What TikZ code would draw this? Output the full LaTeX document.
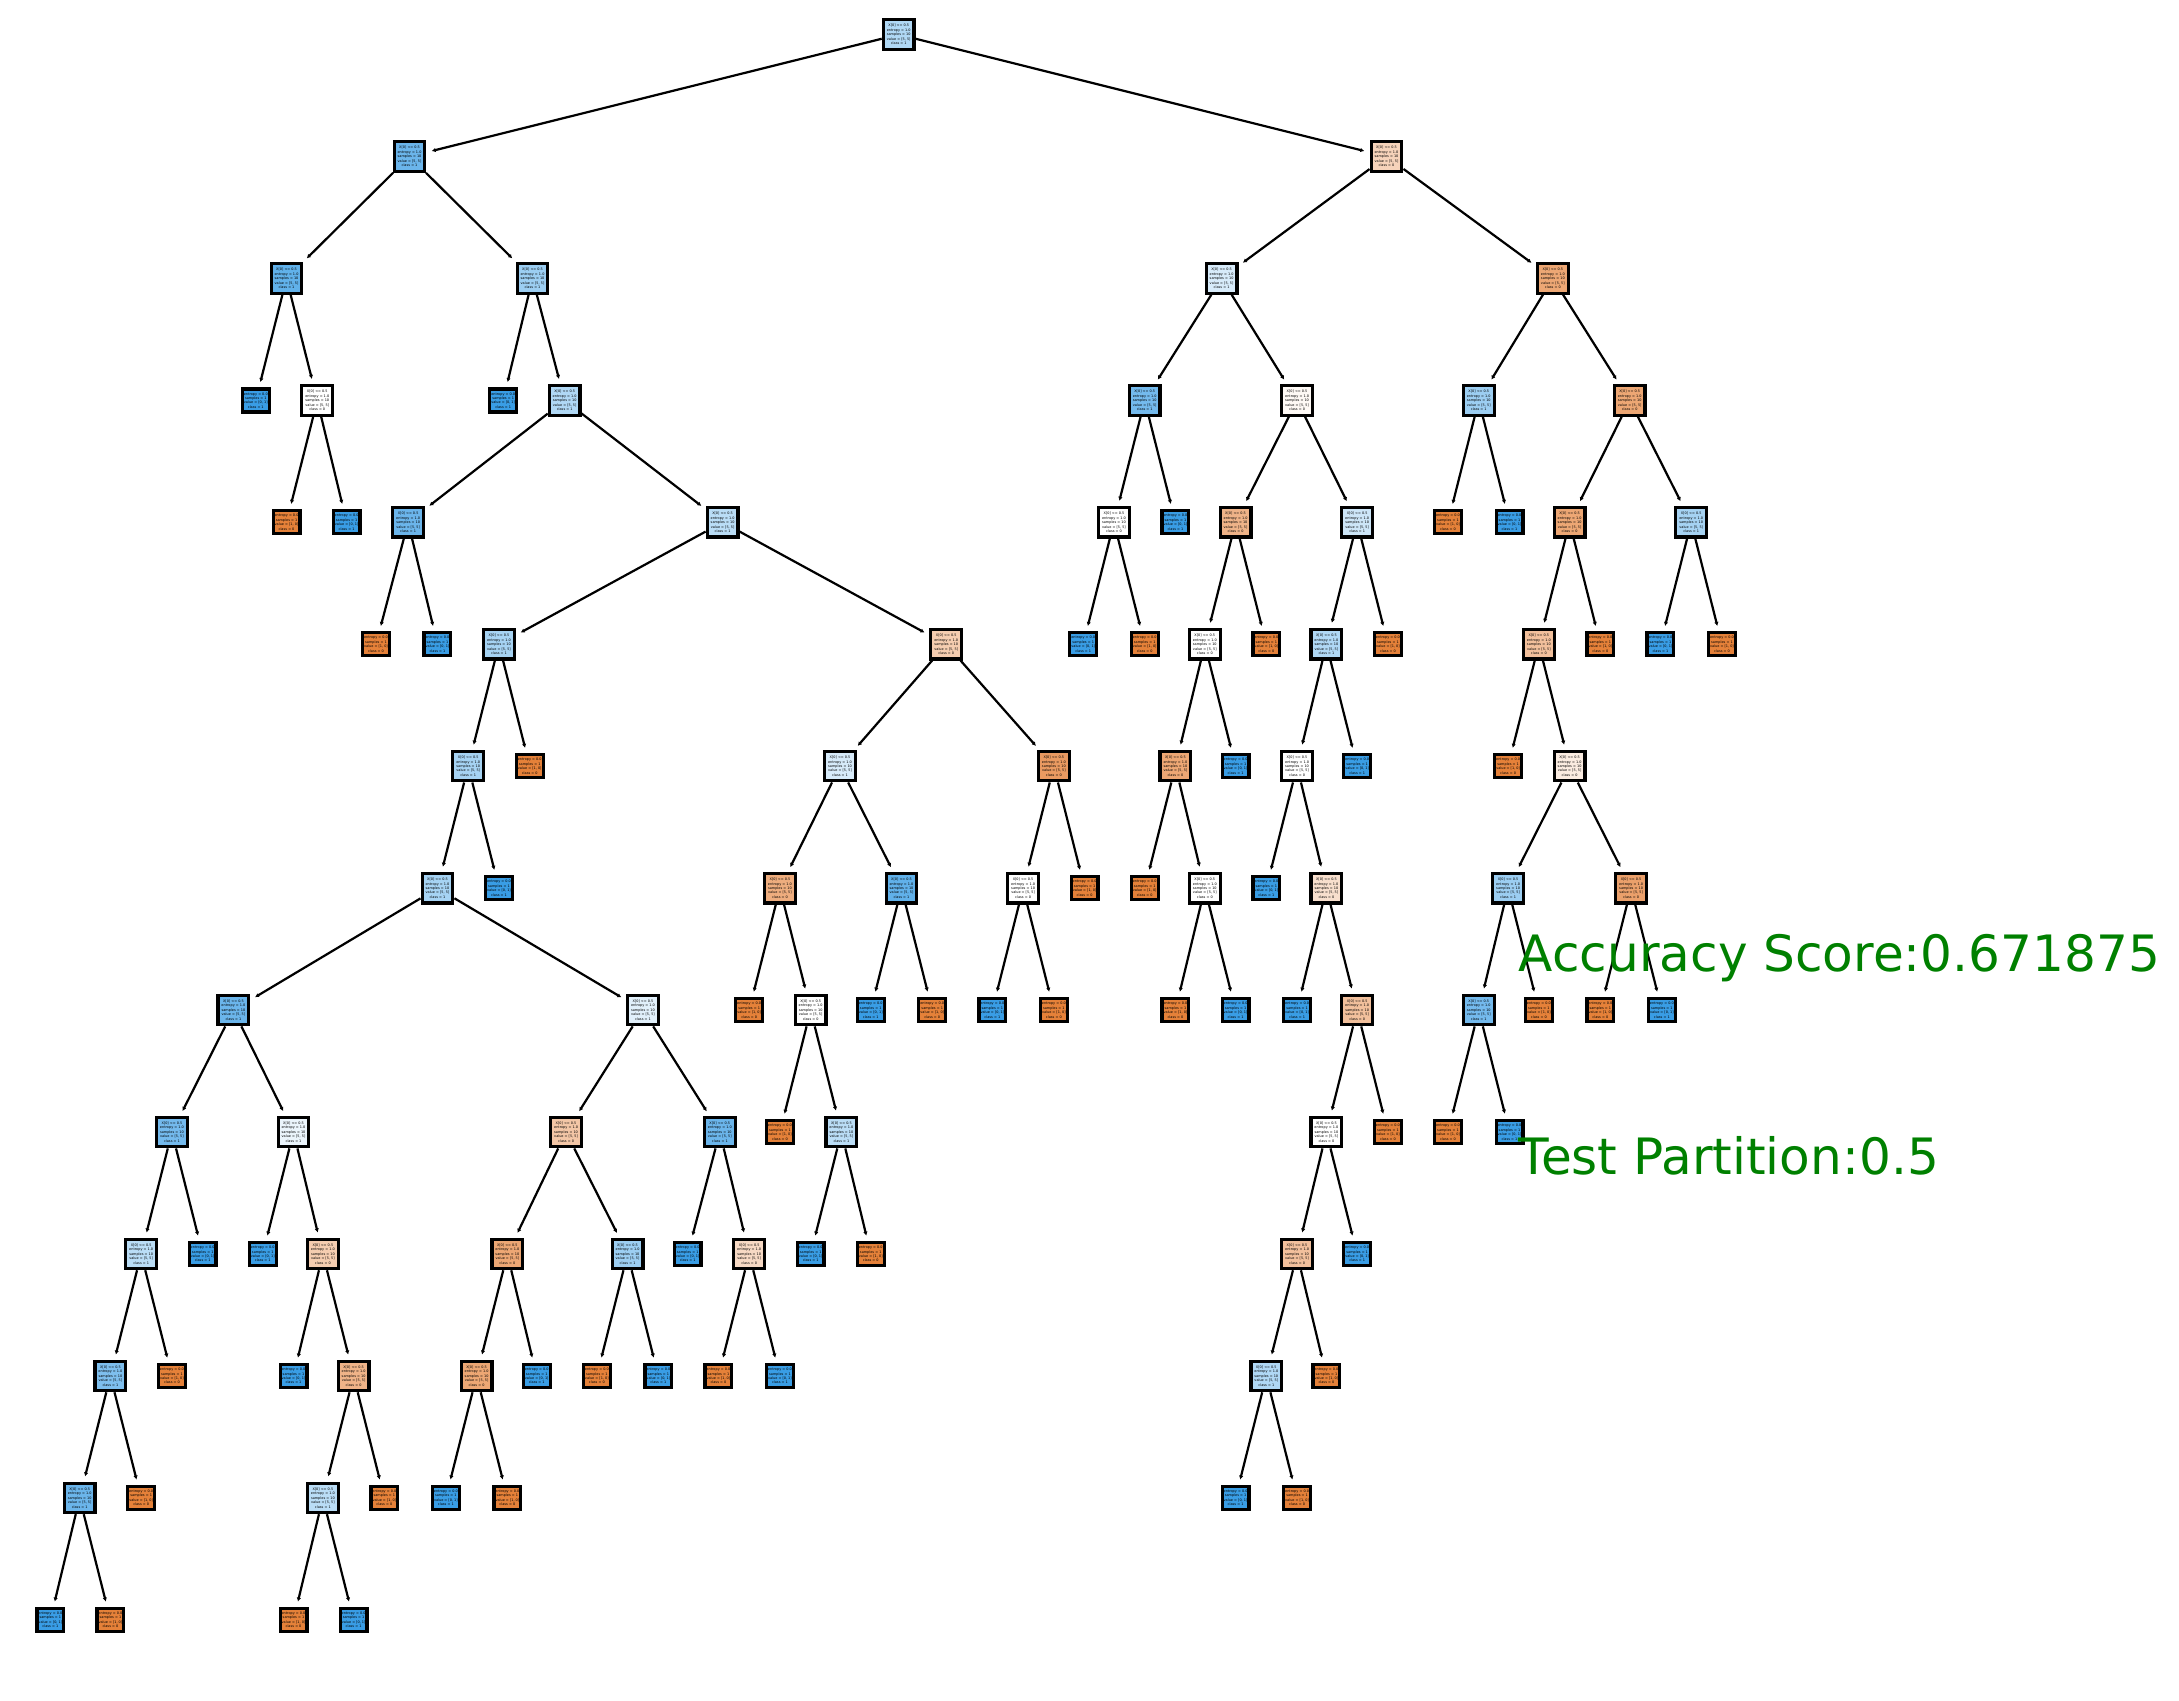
\documentclass[tikz,border=0pt]{standalone}
\usepackage{fontspec}
\setmainfont{DejaVu Sans}
\usepackage{tikz}
\usetikzlibrary{arrows.meta}
\definecolor{clsA}{RGB}{229,129,57} % class 0
\definecolor{clsB}{RGB}{57,157,229} % class 1
\definecolor{scoregreen}{RGB}{0,128,0}
\newcommand{\splitlabel}[1]{X[0] <= 0.5\\entropy = 1.0\\samples = 10\\value = [5, 5]\\class = #1}
\newcommand{\leafAlabel}{entropy = 0.0\\samples = 1\\value = [1, 0]\\class = 0}
\newcommand{\leafBlabel}{entropy = 0.0\\samples = 1\\value = [0, 1]\\class = 1}
\tikzset{
box/.style={draw, line width=0.65pt, inner sep=0.3pt, align=center, font=\fontsize{0.7}{0.9}\selectfont}, % every tree node
split/.style={box, minimum width=2.2mm, minimum height=2.1mm}, % internal node
leafA/.style={box, fill=clsA, minimum width=1.8mm, minimum height=1.65mm}, % pure leaf, class 0
leafB/.style={box, fill=clsB, minimum width=1.8mm, minimum height=1.65mm}, % pure leaf, class 1
branch/.style={line width=0.45pt, -{Latex[length=0.8pt,width=0.9pt]}, shorten >=1.1pt}, % parent to child
score/.style={anchor=base west, inner sep=0pt, text=scoregreen, font=\fontsize{10.2}{12}\selectfont},
}
\begin{document}
\begin{tikzpicture}[x=0.1mm, y=-0.1mm]
\useasboundingbox (0,0) rectangle (1559,1217);
% left half
\node[split, fill=clsB!40!white] (n0) at (643,24.7) {\splitlabel{1}};
\node[split, fill=clsB!75!white] (n1) at (293,112) {\splitlabel{1}};
\node[split, fill=clsB!80!white] (n2) at (205,199.2) {\splitlabel{1}};
\node[leafB] (n3) at (183,286.5) {\leafBlabel};
\node[split, fill=white] (n4) at (227,286.5) {\splitlabel{0}};
\node[leafA] (n5) at (205,373.7) {\leafAlabel};
\node[leafB] (n6) at (248,373.7) {\leafBlabel};
\node[split, fill=clsB!50!white] (n7) at (381,199.2) {\splitlabel{1}};
\node[leafB] (n8) at (360,286.5) {\leafBlabel};
\node[split, fill=clsB!40!white] (n9) at (404,286.5) {\splitlabel{1}};
\node[split, fill=clsB!75!white] (n10) at (292,373.7) {\splitlabel{1}};
\node[leafA] (n11) at (269,461) {\leafAlabel};
\node[leafB] (n12) at (313,461) {\leafBlabel};
\node[split, fill=clsB!35!white] (n13) at (517,373.7) {\splitlabel{1}};
\node[split, fill=clsB!45!white] (n14) at (357,461) {\splitlabel{1}};
\node[split, fill=clsB!45!white] (n15) at (335,548.2) {\splitlabel{1}};
\node[split, fill=clsB!45!white] (n16) at (313,635.5) {\splitlabel{1}};
\node[split, fill=clsB!75!white] (n17) at (167,722.7) {\splitlabel{1}};
\node[split, fill=clsB!70!white] (n18) at (123,810) {\splitlabel{1}};
\node[split, fill=clsB!35!white] (n19) at (101,897.2) {\splitlabel{1}};
\node[split, fill=clsB!65!white] (n20) at (79,984.5) {\splitlabel{1}};
\node[split, fill=clsB!75!white] (n21) at (57,1071.7) {\splitlabel{1}};
\node[leafB] (n22) at (36,1159) {\leafBlabel};
\node[leafA] (n23) at (79,1159) {\leafAlabel};
\node[leafA] (n24) at (101,1071.7) {\leafAlabel};
\node[leafA] (n25) at (123,984.5) {\leafAlabel};
\node[leafB] (n26) at (145,897.2) {\leafBlabel};
\node[split, fill=clsB!10!white] (n27) at (210,810) {\splitlabel{1}};
\node[leafB] (n28) at (188,897.2) {\leafBlabel};
\node[split, fill=clsA!40!white] (n29) at (231,897.2) {\splitlabel{0}};
\node[leafB] (n30) at (210,984.5) {\leafBlabel};
\node[split, fill=clsA!60!white] (n31) at (253,984.5) {\splitlabel{0}};
\node[split, fill=clsB!35!white] (n32) at (231,1071.7) {\splitlabel{1}};
\node[leafA] (n33) at (210,1159) {\leafAlabel};
\node[leafB] (n34) at (253,1159) {\leafBlabel};
\node[leafA] (n35) at (275,1071.7) {\leafAlabel};
\node[split, fill=clsB!15!white] (n36) at (460,722.7) {\splitlabel{1}};
\node[split, fill=clsA!45!white] (n37) at (405,810) {\splitlabel{0}};
\node[split, fill=clsA!70!white] (n38) at (363,897.2) {\splitlabel{0}};
\node[split, fill=clsA!70!white] (n39) at (341,984.5) {\splitlabel{0}};
\node[leafB] (n40) at (319,1071.7) {\leafBlabel};
\node[leafA] (n41) at (363,1071.7) {\leafAlabel};
\node[leafB] (n42) at (384,984.5) {\leafBlabel};
\node[split, fill=clsB!50!white] (n43) at (449,897.2) {\splitlabel{1}};
\node[leafA] (n44) at (427,984.5) {\leafAlabel};
\node[leafB] (n45) at (471,984.5) {\leafBlabel};
\node[split, fill=clsB!75!white] (n46) at (515,810) {\splitlabel{1}};
\node[leafB] (n47) at (492,897.2) {\leafBlabel};
\node[split, fill=clsA!30!white] (n48) at (536,897.2) {\splitlabel{0}};
\node[leafA] (n49) at (514,984.5) {\leafAlabel};
\node[leafB] (n50) at (558,984.5) {\leafBlabel};
\node[leafB] (n51) at (357,635.5) {\leafBlabel};
\node[leafA] (n52) at (379,548.2) {\leafAlabel};
\node[split, fill=clsA!40!white] (n53) at (677,461) {\splitlabel{0}};
\node[split, fill=clsB!20!white] (n54) at (601,548.2) {\splitlabel{1}};
\node[split, fill=clsA!65!white] (n55) at (558,635.5) {\splitlabel{0}};
\node[leafA] (n56) at (536,722.7) {\leafAlabel};
\node[split, fill=white] (n57) at (580,722.7) {\splitlabel{0}};
\node[leafA] (n58) at (558,810) {\leafAlabel};
\node[split, fill=clsB!35!white] (n59) at (602,810) {\splitlabel{1}};
\node[leafB] (n60) at (580,897.2) {\leafBlabel};
\node[leafA] (n61) at (623,897.2) {\leafAlabel};
\node[split, fill=clsB!80!white] (n62) at (645,635.5) {\splitlabel{1}};
\node[leafB] (n63) at (623,722.7) {\leafBlabel};
\node[leafA] (n64) at (667,722.7) {\leafAlabel};
\node[split, fill=clsA!80!white] (n65) at (754,548.2) {\splitlabel{0}};
\node[split, fill=white] (n66) at (732,635.5) {\splitlabel{0}};
\node[leafB] (n67) at (710,722.7) {\leafBlabel};
\node[leafA] (n68) at (754,722.7) {\leafAlabel};
\node[leafA] (n69) at (776,635.5) {\leafAlabel};
% right half
\node[split, fill=clsA!35!white] (n70) at (992,112) {\splitlabel{0}};
\node[split, fill=clsB!20!white] (n71) at (874,199.2) {\splitlabel{1}};
\node[split, fill=clsB!70!white] (n72) at (819,286.5) {\splitlabel{1}};
\node[split, fill=white] (n73) at (797,373.7) {\splitlabel{0}};
\node[leafB] (n74) at (775,461) {\leafBlabel};
\node[leafA] (n75) at (819,461) {\leafAlabel};
\node[leafB] (n76) at (841,373.7) {\leafBlabel};
\node[split, fill=clsA!5!white] (n77) at (928,286.5) {\splitlabel{0}};
\node[split, fill=clsA!60!white] (n78) at (884,373.7) {\splitlabel{0}};
\node[split, fill=white] (n79) at (862,461) {\splitlabel{0}};
\node[split, fill=clsA!70!white] (n80) at (841,548.2) {\splitlabel{0}};
\node[leafA] (n81) at (819,635.5) {\leafAlabel};
\node[split, fill=white] (n82) at (862,635.5) {\splitlabel{0}};
\node[leafA] (n83) at (841,722.7) {\leafAlabel};
\node[leafB] (n84) at (884,722.7) {\leafBlabel};
\node[leafB] (n85) at (884,548.2) {\leafBlabel};
\node[leafA] (n86) at (906,461) {\leafAlabel};
\node[split, fill=clsB!25!white] (n87) at (971,373.7) {\splitlabel{1}};
\node[split, fill=clsB!40!white] (n88) at (949,461) {\splitlabel{1}};
\node[split, fill=white] (n89) at (928,548.2) {\splitlabel{0}};
\node[leafB] (n90) at (906,635.5) {\leafBlabel};
\node[split, fill=clsA!25!white] (n91) at (949,635.5) {\splitlabel{0}};
\node[leafB] (n92) at (928,722.7) {\leafBlabel};
\node[split, fill=clsA!50!white] (n93) at (971,722.7) {\splitlabel{0}};
\node[split, fill=white] (n94) at (949,810) {\splitlabel{0}};
\node[split, fill=clsA!50!white] (n95) at (928,897.2) {\splitlabel{0}};
\node[split, fill=clsB!40!white] (n96) at (906,984.5) {\splitlabel{1}};
\node[leafB] (n97) at (884,1071.7) {\leafBlabel};
\node[leafA] (n98) at (928,1071.7) {\leafAlabel};
\node[leafA] (n99) at (949,984.5) {\leafAlabel};
\node[leafB] (n100) at (971,897.2) {\leafBlabel};
\node[leafA] (n101) at (993,810) {\leafAlabel};
\node[leafB] (n102) at (971,548.2) {\leafBlabel};
\node[leafA] (n103) at (993,461) {\leafAlabel};
\node[split, fill=clsA!70!white] (n104) at (1111,199.2) {\splitlabel{0}};
\node[split, fill=clsB!50!white] (n105) at (1058,286.5) {\splitlabel{1}};
\node[leafA] (n106) at (1036,373.7) {\leafAlabel};
\node[leafB] (n107) at (1080,373.7) {\leafBlabel};
\node[split, fill=clsA!70!white] (n108) at (1166,286.5) {\splitlabel{0}};
\node[split, fill=clsA!70!white] (n109) at (1123,373.7) {\splitlabel{0}};
\node[split, fill=clsA!50!white] (n110) at (1101,461) {\splitlabel{0}};
\node[leafA] (n111) at (1079,548.2) {\leafAlabel};
\node[split, fill=clsA!15!white] (n112) at (1123,548.2) {\splitlabel{0}};
\node[split, fill=clsB!50!white] (n113) at (1079,635.5) {\splitlabel{1}};
\node[split, fill=clsB!70!white] (n114) at (1058,722.7) {\splitlabel{1}};
\node[leafA] (n115) at (1036,810) {\leafAlabel};
\node[leafB] (n116) at (1080,810) {\leafBlabel};
\node[leafA] (n117) at (1101,722.7) {\leafAlabel};
\node[split, fill=clsA!75!white] (n118) at (1167,635.5) {\splitlabel{0}};
\node[leafA] (n119) at (1145,722.7) {\leafAlabel};
\node[leafB] (n120) at (1189,722.7) {\leafBlabel};
\node[leafA] (n121) at (1145,461) {\leafAlabel};
\node[split, fill=clsB!45!white] (n122) at (1210,373.7) {\splitlabel{1}};
\node[leafB] (n123) at (1188,461) {\leafBlabel};
\node[leafA] (n124) at (1232,461) {\leafAlabel};
% branches
\draw[branch] (n0) edge (n1) (n0) edge (n70)
 (n1) edge (n2) (n1) edge (n7)
 (n2) edge (n3) (n2) edge (n4)
 (n4) edge (n5) (n4) edge (n6)
 (n7) edge (n8) (n7) edge (n9)
 (n9) edge (n10) (n9) edge (n13)
 (n10) edge (n11) (n10) edge (n12)
 (n13) edge (n14) (n13) edge (n53)
 (n14) edge (n15) (n14) edge (n52)
 (n15) edge (n16) (n15) edge (n51)
 (n16) edge (n17) (n16) edge (n36)
 (n17) edge (n18) (n17) edge (n27)
 (n18) edge (n19) (n18) edge (n26)
 (n19) edge (n20) (n19) edge (n25)
 (n20) edge (n21) (n20) edge (n24)
 (n21) edge (n22) (n21) edge (n23)
 (n27) edge (n28) (n27) edge (n29)
 (n29) edge (n30) (n29) edge (n31)
 (n31) edge (n32) (n31) edge (n35)
 (n32) edge (n33) (n32) edge (n34)
 (n36) edge (n37) (n36) edge (n46)
 (n37) edge (n38) (n37) edge (n43)
 (n38) edge (n39) (n38) edge (n42)
 (n39) edge (n40) (n39) edge (n41)
 (n43) edge (n44) (n43) edge (n45)
 (n46) edge (n47) (n46) edge (n48)
 (n48) edge (n49) (n48) edge (n50)
 (n53) edge (n54) (n53) edge (n65)
 (n54) edge (n55) (n54) edge (n62)
 (n55) edge (n56) (n55) edge (n57)
 (n57) edge (n58) (n57) edge (n59)
 (n59) edge (n60) (n59) edge (n61)
 (n62) edge (n63) (n62) edge (n64)
 (n65) edge (n66) (n65) edge (n69)
 (n66) edge (n67) (n66) edge (n68);
\draw[branch] (n70) edge (n71) (n70) edge (n104)
 (n71) edge (n72) (n71) edge (n77)
 (n72) edge (n73) (n72) edge (n76)
 (n73) edge (n74) (n73) edge (n75)
 (n77) edge (n78) (n77) edge (n87)
 (n78) edge (n79) (n78) edge (n86)
 (n79) edge (n80) (n79) edge (n85)
 (n80) edge (n81) (n80) edge (n82)
 (n82) edge (n83) (n82) edge (n84)
 (n87) edge (n88) (n87) edge (n103)
 (n88) edge (n89) (n88) edge (n102)
 (n89) edge (n90) (n89) edge (n91)
 (n91) edge (n92) (n91) edge (n93)
 (n93) edge (n94) (n93) edge (n101)
 (n94) edge (n95) (n94) edge (n100)
 (n95) edge (n96) (n95) edge (n99)
 (n96) edge (n97) (n96) edge (n98)
 (n104) edge (n105) (n104) edge (n108)
 (n105) edge (n106) (n105) edge (n107)
 (n108) edge (n109) (n108) edge (n122)
 (n109) edge (n110) (n109) edge (n121)
 (n110) edge (n111) (n110) edge (n112)
 (n112) edge (n113) (n112) edge (n118)
 (n113) edge (n114) (n113) edge (n117)
 (n114) edge (n115) (n114) edge (n116)
 (n118) edge (n119) (n118) edge (n120)
 (n122) edge (n123) (n122) edge (n124);
% scores
\node[score] (acc) at (1086,695) {Accuracy Score:0.671875};
\node[score] (part) at (1086,840) {Test Partition:0.5};
\end{tikzpicture}
\end{document}
